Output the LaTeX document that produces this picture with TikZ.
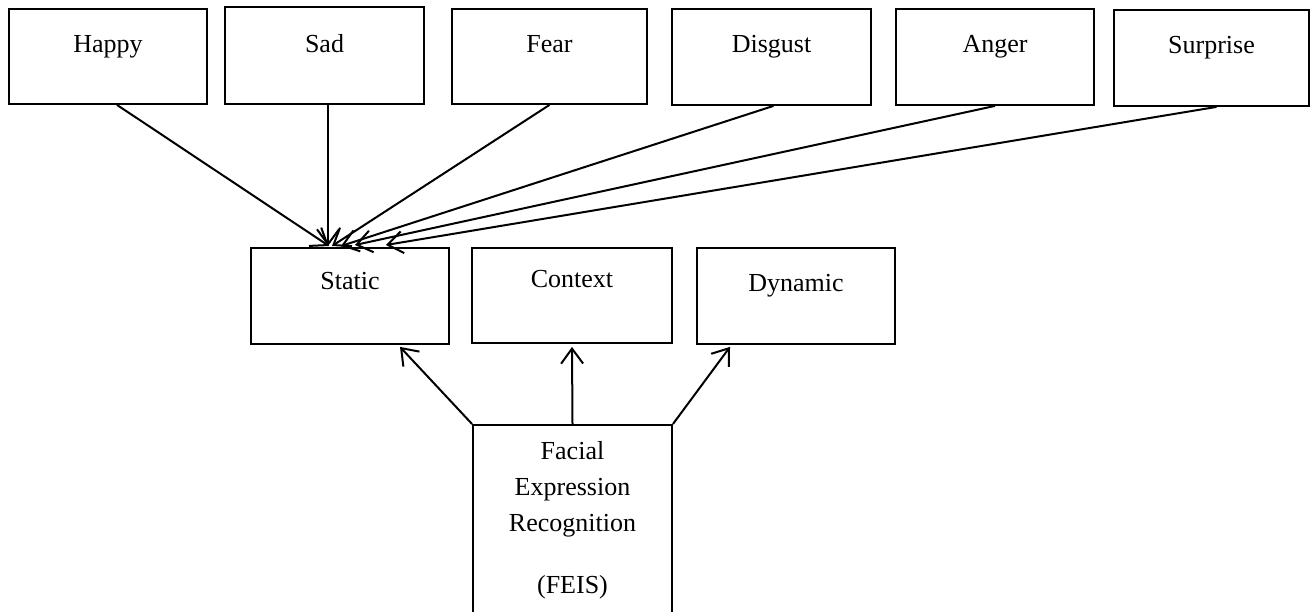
\documentclass[tikz,border=0pt]{standalone}
\usepackage{fontspec}
\setmainfont{Liberation Serif}
\usetikzlibrary{arrows.meta,calc}
\tikzset{
  box/.style={draw, line width=1.9pt, inner sep=0pt, anchor=north,
    font=\fontsize{26}{36}\selectfont},
  dims/.style n args={3}{minimum width=#1, text height=#2, text depth=#3},
  arr/.style={line width=2pt, -{Straight Barb[length=15pt,width=22pt,line width=2pt]}},
}
\begin{document}
\begin{tikzpicture}[x=1pt,y=-1pt]
\useasboundingbox (0,0) rectangle (1314,611);
\fill[white] (0,0) rectangle (1314,611);
\clip (0,0) rectangle (1314,611);
% top row
\node[box, dims={198pt}{44pt}{51pt}] (happy) at (108,8) {Happy};
\node[box, dims={199pt}{46pt}{51pt}] (sad) at (324.5,6) {Sad};
\node[box, dims={195pt}{44pt}{51pt}] (fear) at (549.5,8) {Fear};
\node[box, dims={199pt}{44pt}{52pt}] (disgust) at (771.5,8) {Disgust};
\node[box, dims={198pt}{44pt}{52pt}] (anger) at (995,8) {Anger};
\node[box, dims={195pt}{44pt}{52pt}] (surprise) at (1211.5,9) {Surprise};
% middle row
\node[box, dims={198pt}{42pt}{54pt}] (static) at (350,247) {Static};
\node[box, dims={200pt}{40pt}{55pt}] (context) at (572,247) {Context};
\node[box, dims={198pt}{44pt}{52pt}] (dynamic) at (796,247) {Dynamic};
% bottom box (runs past the lower edge)
\node[box, minimum width=199pt, minimum height=260pt] (feis) at (572.5,424) {};
\node[anchor=north, inner sep=0pt, align=center,
  font=\fontsize{26}{36}\selectfont] (feistext) at (572.5,441)
  {Facial\\Expression\\Recognition\\[26pt](FEIS)};
% arrows from the emotions to Static
\draw[arr] ($(happy.south)+(9,0)$) -- ($(static.north)+(-21,-1)$);
\draw[arr] ($(sad.south)+(3.5,0)$) -- ($(static.north)+(-22,-1)$);
\draw[arr] (fear.south) -- ($(static.north)+(-18,-1)$);
\draw[arr] ($(disgust.south)+(2,0)$) -- ($(static.north)+(-9,-1)$);
\draw[arr] (anger.south) -- ($(static.north)+(5,-2)$);
\draw[arr] ($(surprise.south)+(5,0)$) -- ($(static.north)+(36,-2)$);
% arrows from FEIS
\draw[arr] (feis.north west) -- ($(static.south)+(50,2)$);
\draw[arr] (feis.north) -- ($(context.south)+(0,3)$);
\draw[arr] (feis.north east) -- ($(dynamic.south)+(-66,2)$);
\end{tikzpicture}
\end{document}
